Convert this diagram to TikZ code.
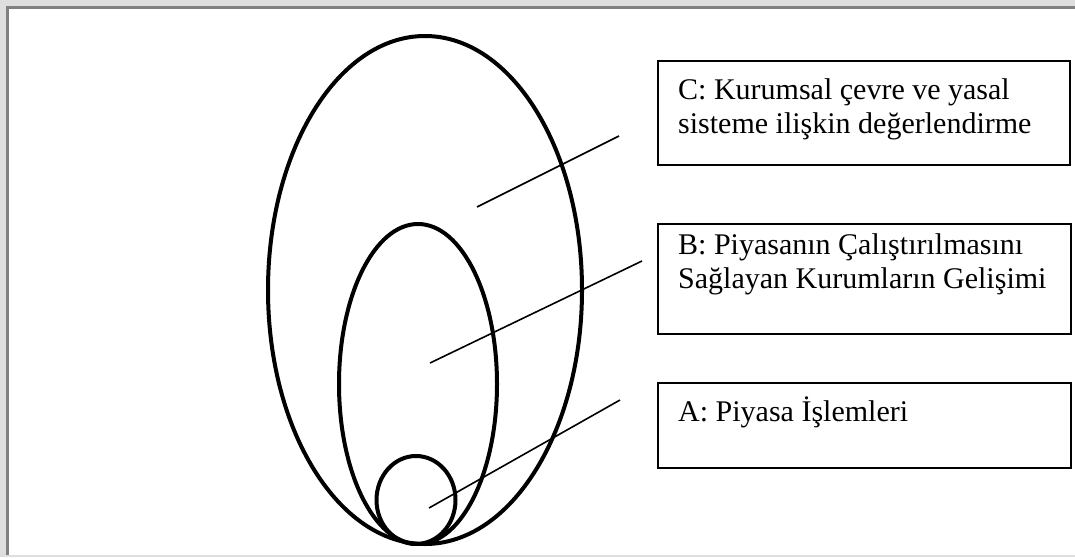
\documentclass[tikz,border=0pt]{standalone}
\usepackage{fontspec}
\setmainfont{Liberation Serif}
\usetikzlibrary{shapes.geometric}
\begin{document}
\begin{tikzpicture}[x=1pt,y=-1pt,
  ring/.style={ellipse, draw=black, line width=4pt, inner sep=0pt},
  leader/.style={draw=black, line width=1.6pt},
  box/.style={rectangle, draw=black, line width=1.5pt, inner sep=0pt, anchor=north west},
  lbl/.style={inner sep=0pt, anchor=base west, font=\fontsize{30}{34}\selectfont}]
\useasboundingbox (0,0) rectangle (1075,557);
% frame
\fill[black!13] (0,0) rectangle (1075,557);
\fill[white] (9,9) rectangle (1075,555);
\fill[black!50] (6,6) rectangle (1075,9);
\fill[black!50] (6,6) rectangle (9,555);
% ellipses
\node[ring, minimum width=314pt, minimum height=508pt] (C) at (425,290) {};
\node[ring, minimum width=158pt, minimum height=320pt] (B) at (418,384) {};
\node[ring, minimum width=79pt, minimum height=88pt] (A) at (416,500) {};
% leader lines
\coordinate (cS) at (477,207); \coordinate (cE) at (619,136);
\coordinate (bS) at (430,363); \coordinate (bE) at (642,261);
\coordinate (aS) at (429,508); \coordinate (aE) at (620,400);
\draw[leader] (cS) -- (cE);
\draw[leader] (bS) -- (bE);
\draw[leader] (aS) -- (aE);
% boxes
\node[box, minimum width=412pt, minimum height=104pt] (boxC) at (657,60) {};
\node[box, minimum width=413pt, minimum height=110pt] (boxB) at (657,223) {};
\node[box, minimum width=413pt, minimum height=85pt] (boxA) at (657,382) {};
% labels
\node[lbl] (tC1) at (678,99.5) {C: Kurumsal çevre ve yasal};
\node[lbl] (tC2) at (678,133) {sisteme ilişkin değerlendirme};
\node[lbl] (tB1) at (678,254) {B: Piyasanın Çalıştırılmasını};
\node[lbl] (tB2) at (678,288) {Sağlayan Kurumların Gelişimi};
\node[lbl] (tA1) at (678,421) {A: Piyasa İşlemleri};
\end{tikzpicture}
\end{document}
